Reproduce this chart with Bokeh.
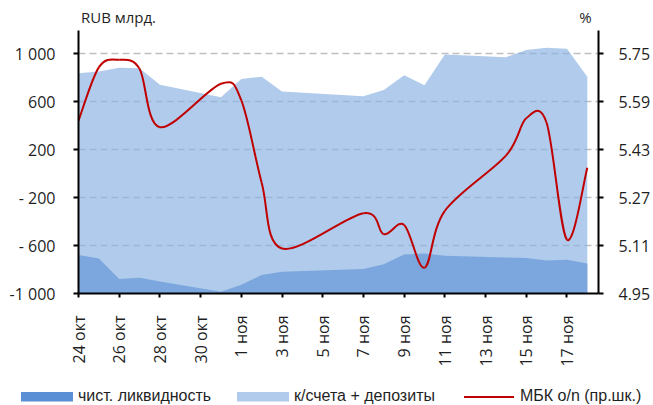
import numpy as np
import pandas as pd
from bokeh.plotting import figure
from bokeh.layouts import column
from bokeh.models import Range1d, LinearAxis, FixedTicker, PrintfTickFormatter, Div
from bokeh.embed import file_html
from bokeh.resources import INLINE

# ---------------- data ----------------
dates = ["2016-10-24", "2016-10-25", "2016-10-26", "2016-10-27", "2016-10-28",
         "2016-10-31", "2016-11-01", "2016-11-02", "2016-11-03", "2016-11-07",
         "2016-11-08", "2016-11-09", "2016-11-10", "2016-11-11", "2016-11-14",
         "2016-11-15", "2016-11-16", "2016-11-17", "2016-11-18"]
net_liquidity = [-679, -708, -880, -869, -900, -986, -928, -846, -819, -796,
                 -755, -674, -666, -685, -699, -704, -724, -719, -750]
accounts_deposits = [838, 852, 885, 880, 743, 637, 791, 810, 685, 646,
                     699, 822, 738, 994, 972, 1033, 1050, 1042, 810]
mbk_on = [5.527, 5.705, 5.73, 5.70, 5.505, 5.65, 5.595, 5.32, 5.10, 5.218,
          5.148, 5.179, 5.036, 5.226, 5.41, 5.535, 5.52, 5.13, 5.37]

x_tick_labels = ["24 окт", "26 окт", "28 окт", "30 окт", "1 ноя", "3 ноя", "5 ноя",
                 "7 ноя", "9 ноя", "11 ноя", "13 ноя", "15 ноя", "17 ноя"]
left_ticks = [-1000, -600, -200, 200, 600, 1000]
left_tick_labels = ["-1 000", "- 600", "- 200", "200", "600", "1 000"]
right_ticks = [4.95, 5.11, 5.27, 5.43, 5.59, 5.75]

series_names = ["чист. ликвидность", "к/счета + депозиты", "МБК о/n (пр.шк.)"]
left_unit = "RUB млрд."
right_unit = "%"

DARK = "#5A8ED5"
LIGHT = "#8AB2E1"
LIGHT_ALPHA = 0.68
RED = "#C00000"

# ---------------- prep ----------------
d = pd.to_datetime(pd.Series(dates))
x = ((d - d.iloc[0]).dt.days).to_numpy().astype(float)
yb = np.array(mbk_on, dtype=float)
base = [-1000] * len(x)

FONT = "Open Sans"
TXT = "#1f1f1f"

p = figure(width=653, height=375, x_range=Range1d(0, 25.55), y_range=Range1d(-1000, 1195),
           output_backend="svg", toolbar_location=None,
           min_border_left=78, min_border_right=55, min_border_top=30, min_border_bottom=82)
p.outline_line_color = None
p.extra_y_ranges = {"right": Range1d(4.95, 5.828)}
p.extra_x_ranges = {"px": Range1d(0, 520)}

p.varea(x=x, y1=base, y2=net_liquidity, fill_color=DARK)
p.varea(x=x, y1=base, y2=accounts_deposits, fill_color=LIGHT, fill_alpha=LIGHT_ALPHA)

# smooth (Catmull-Rom -> cubic bezier) red line through the data points
P = np.column_stack([x, yb])
Pext = np.vstack([P[0], P, P[-1]])
x0, y0, x1, y1, cx0, cy0, cx1, cy1 = [], [], [], [], [], [], [], []
for i in range(len(P) - 1):
    p0, p1, p2, p3 = Pext[i], Pext[i + 1], Pext[i + 2], Pext[i + 3]
    c1 = p1 + (p2 - p0) / 6.0
    c2 = p2 - (p3 - p1) / 6.0
    x0.append(p1[0]); y0.append(p1[1]); x1.append(p2[0]); y1.append(p2[1])
    cx0.append(c1[0]); cy0.append(c1[1]); cx1.append(c2[0]); cy1.append(c2[1])
p.bezier(x0=x0, y0=y0, x1=x1, y1=y1, cx0=cx0, cy0=cy0, cx1=cx1, cy1=cy1,
         line_color=RED, line_width=2, y_range_name="right")

# ---------------- axes ----------------
xa = p.xaxis[0]
xa.ticker = FixedTicker(ticks=list(range(0, 25, 2)))
xa.major_label_overrides = {i * 2: lab for i, lab in enumerate(x_tick_labels)}
xa.major_label_orientation = np.pi / 2
xa.minor_tick_line_color = None
xa.major_tick_in = 0
xa.major_tick_out = 4
xa.major_label_standoff = 18

ya = p.yaxis[0]
ya.ticker = FixedTicker(ticks=left_ticks)
ya.major_label_overrides = {t: l for t, l in zip(left_ticks, left_tick_labels)}
ya.minor_tick_line_color = None
ya.major_tick_in = 0
ya.major_tick_out = 5
ya.major_label_standoff = 18

ra = LinearAxis(y_range_name="right", ticker=FixedTicker(ticks=right_ticks),
                formatter=PrintfTickFormatter(format="%.2f"))
ra.minor_tick_line_color = None
ra.major_tick_in = 0
ra.major_tick_out = 5
ra.major_label_standoff = 15
p.add_layout(ra, "right")

for ax in (xa, ya, ra):
    ax.axis_line_color = "black"
    ax.axis_line_width = 2
    ax.major_tick_line_color = "black"
    ax.major_tick_line_width = 2
    ax.major_label_text_font = FONT
    ax.major_label_text_font_size = "16px"
    ax.major_label_text_color = TXT

# unit captions above the plot
ta = LinearAxis(x_range_name="px", ticker=FixedTicker(ticks=[40, 507]))
ta.major_label_overrides = {40: left_unit, 507: right_unit}
ta.axis_line_color = None
ta.major_tick_line_color = None
ta.minor_tick_line_color = None
ta.major_tick_out = 0
ta.major_tick_in = 0
ta.major_label_standoff = 4
ta.major_label_text_font = FONT
ta.major_label_text_font_size = "15px"
ta.major_label_text_color = TXT
p.add_layout(ta, "above")

p.xgrid.grid_line_color = None
p.ygrid.ticker = FixedTicker(ticks=left_ticks[1:])
p.ygrid.grid_line_color = "#BFBFBF"
p.ygrid.grid_line_width = 1.5
p.ygrid.grid_line_dash = "7 4"

# ---------------- legend (HTML/SVG strip under the plot) ----------------
legend_svg = f"""
<svg width="653" height="30" xmlns="http://www.w3.org/2000/svg" style="display:block">
  <rect x="21" y="17" width="52" height="9.5" fill="{DARK}"/>
  <text x="78" y="26" font-family="{FONT}" font-size="16px" fill="{TXT}">{series_names[0]}</text>
  <rect x="237" y="17" width="52" height="9.5" fill="{LIGHT}" fill-opacity="{LIGHT_ALPHA}"/>
  <text x="294" y="26" font-family="{FONT}" font-size="16px" fill="{TXT}">{series_names[1]}</text>
  <line x1="464" y1="22" x2="514" y2="22" stroke="{RED}" stroke-width="2"/>
  <text x="520" y="26" font-family="{FONT}" font-size="16px" fill="{TXT}">{series_names[2]}</text>
</svg>
"""
legend_div = Div(text=legend_svg, width=653, height=30, margin=0)

layout = column(p, legend_div, spacing=0)
open("out.html", "w").write(file_html(layout, INLINE))
